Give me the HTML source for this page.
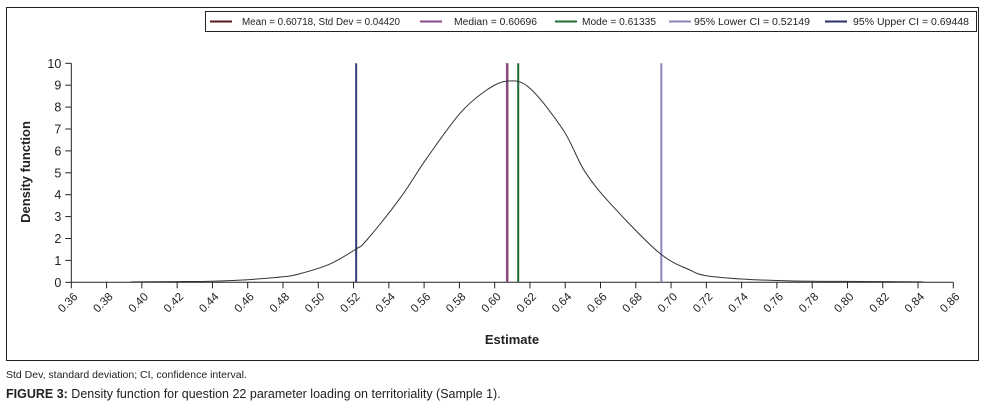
<!DOCTYPE html>
<html><head><meta charset="utf-8"><style>
body{margin:0;background:#fff;width:982px;height:415px;overflow:hidden;font-family:"Liberation Sans",sans-serif}
svg{position:absolute;left:0;top:0}
.note{position:absolute;left:6px;top:369px;font-size:10.5px;color:#222}
.cap{position:absolute;left:6px;top:387px;font-size:12.5px;color:#222}
</style></head><body>
<svg width="982" height="415">
<rect x="6.5" y="7.5" width="972" height="353" fill="none" stroke="#222" stroke-width="1"/>
<g id="legend"></g>
<g id="axes"></g>
<g id="vlines"></g>
<path id="curve" fill="none" stroke="#333" stroke-width="1"/>
<text x="30" y="172" font-size="13" font-weight="bold" fill="#222" text-anchor="middle" transform="rotate(-90 30 172)">Density function</text>
<text x="512" y="344" font-size="13" font-weight="bold" fill="#222" text-anchor="middle">Estimate</text>
</svg>
<div class="note">Std Dev, standard deviation; CI, confidence interval.</div>
<div class="cap"><b>FIGURE 3:</b> Density function for question 22 parameter loading on territoriality (Sample 1).</div>
<script>
const xTicks=[0.36,0.38,0.40,0.42,0.44,0.46,0.48,0.50,0.52,0.54,0.56,0.58,0.60,0.62,0.64,0.66,0.68,0.70,0.72,0.74,0.76,0.78,0.80,0.82,0.84,0.86];
const yTicks=[0,1,2,3,4,5,6,7,8,9,10];
const curveX=[0.394,0.42,0.44,0.46,0.48,0.49,0.5067,0.5212,0.5275,0.5463,0.5615,0.5804,0.5955,0.6077,0.62,0.6389,0.6512,0.6672,0.6937,0.7107,0.72,0.74,0.76,0.78,0.80,0.82,0.843];
const curveY=[0.02,0.03,0.05,0.12,0.25,0.4,0.84,1.51,1.93,3.83,5.66,7.72,8.78,9.19,8.86,6.95,5.05,3.45,1.32,0.56,0.3,0.15,0.08,0.05,0.04,0.03,0.02];
const lineNames=["Mean = 0.60718, Std Dev = 0.04420","Median = 0.60696","Mode = 0.61335","95% Lower CI = 0.52149","95% Upper CI = 0.69448"];
const lineVals=[0.60718,0.60696,0.61335,0.52149,0.69448];
const lineColors=["#5a1a1a","#8a4a8a","#1f6b35","#8a84bb","#2e2f6e"];
const drawColors=["#5a1a1a","#8a4a8a","#1f6b35","#343a7a","#8a84bb"];
const NS="http://www.w3.org/2000/svg";
const X=v=>71.3+(v-0.36)/0.5*882;
const Y=v=>282.3-v*21.9;
function mk(tag,attrs,parent){const e=document.createElementNS(NS,tag);for(const k in attrs)e.setAttribute(k,attrs[k]);parent.appendChild(e);return e;}
const ax=document.getElementById('axes');
let a=mk('line',{x1:X(0.36),x2:X(0.86),y1:Y(0),y2:Y(0),stroke:'#222'},ax);


a=mk('line',{x1:X(0.36),x2:X(0.36),y1:Y(0),y2:Y(10),stroke:'#222'},ax);


xTicks.forEach(t=>{const x=X(t);
 mk('line',{x1:x,x2:x,y1:Y(0),y2:Y(0)+6,stroke:'#222'},ax);
 const tx=mk('text',{x:x+7,y:Y(0)+15,'font-size':'11.5',fill:'#222','text-anchor':'end',transform:`rotate(-45 ${x+7} ${Y(0)+15})`},ax);
 tx.textContent=t.toFixed(2);
 
 });
yTicks.forEach(t=>{const y=Y(t);
 mk('line',{x1:X(0.36)-6,x2:X(0.36),y1:y,y2:y,stroke:'#222'},ax);
 const tx=mk('text',{x:X(0.36)-10,y:y+4.5,'font-size':'12.5',fill:'#222','text-anchor':'end'},ax);
 tx.textContent=t;
 
 });
const vl=document.getElementById('vlines');
lineVals.forEach((v,i)=>{const l=mk('line',{x1:X(v),x2:X(v),y1:Y(0),y2:Y(10),stroke:drawColors[i],'stroke-width':2},vl);
 
 });
const P=curveX.map((v,i)=>[X(v),Y(curveY[i])]);
let d='M'+P[0][0].toFixed(1)+' '+P[0][1].toFixed(1);
for(let i=0;i<P.length-1;i++){const p0=P[i-1]||P[i],p1=P[i],p2=P[i+1],p3=P[i+2]||p2;
 const c1=[p1[0]+(p2[0]-p0[0])/6,p1[1]+(p2[1]-p0[1])/6],c2=[p2[0]-(p3[0]-p1[0])/6,p2[1]-(p3[1]-p1[1])/6];
 d+=`C${c1[0].toFixed(1)} ${c1[1].toFixed(1)} ${c2[0].toFixed(1)} ${c2[1].toFixed(1)} ${p2[0].toFixed(1)} ${p2[1].toFixed(1)}`;}
document.getElementById('curve').setAttribute('d',d);
const lg=document.getElementById('legend');
mk('rect',{x:205.5,y:11.5,width:771,height:20,fill:'#fff',stroke:'#222'},lg);
const lx=[210,420,555,669,825];
const tx0=[242,454,582,694,853];
const tl=[158,83,74,116,116];
lineNames.forEach((n,i)=>{
 mk('line',{x1:lx[i],x2:lx[i]+22,y1:21.5,y2:21.5,stroke:lineColors[i],'stroke-width':2},lg);
 const t=mk('text',{x:tx0[i],y:25,'font-size':'10',fill:'#222',textLength:tl[i],lengthAdjust:'spacingAndGlyphs'},lg);
 t.textContent=n;
 
 });
</script>
</body></html>
